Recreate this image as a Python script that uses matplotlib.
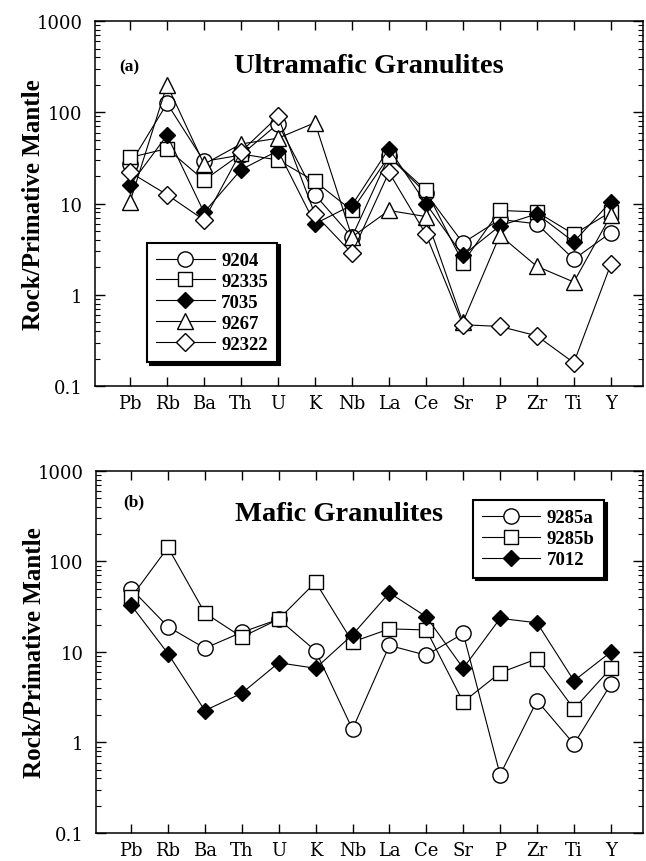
import matplotlib
matplotlib.use("Agg")
import matplotlib.pyplot as plt
from matplotlib.ticker import FixedLocator, LogLocator, NullFormatter

plt.rcParams['font.family'] = ['Liberation Serif', 'DejaVu Serif']

elements = ["Pb", "Rb", "Ba", "Th", "U", "K", "Nb", "La", "Ce", "Sr", "P", "Zr", "Ti", "Y"]

# Panel (a) Ultramafic Granulites
s9204 = [27, 125, 29, 34, 75, 12.5, 4.3, 33, 13, 3.7, 6.7, 6.0, 2.45, 4.8]
s92335 = [32, 40, 18, 35, 30, 17.5, 8.4, 33, 14, 2.25, 8.4, 8.1, 4.6, 8.1]
s7035 = [16, 56, 8, 23.5, 38, 6.0, 9.6, 40, 10, 2.7, 5.7, 7.7, 3.8, 10.5]
s9267 = [10.5, 200, 27, 45, 52, 77, 4.3, 8.4, 7.2, 0.5, 4.5, 2.05, 1.38, 7.4]
s92322 = [22, 12.5, 6.6, 37, 90, 7.6, 2.85, 22, 4.6, 0.47, 0.45, 0.355, 0.18, 2.15]

# Panel (b) Mafic Granulites
s9285a = [50, 19, 11, 16.5, 23, 10.3, 1.4, 11.8, 9.2, 16, 0.44, 2.9, 0.96, 4.4]
s9285b = [40, 143, 27, 14.6, 23, 59, 12.9, 18, 17.5, 2.8, 5.9, 8.4, 2.35, 6.6]
s7012 = [33, 9.6, 2.25, 3.5, 7.6, 6.6, 15.5, 45, 24.5, 6.6, 23.5, 21, 4.8, 10]

ytick_vals = [0.1, 1, 10, 100, 1000]
ytick_labels = ["0.1", "1", "10", "100", "1000"]

top_series = [("9204", s9204), ("92335", s92335), ("7035", s7035), ("9267", s9267), ("92322", s92322)]
bot_series = [("9285a", s9285a), ("9285b", s9285b), ("7012", s7012)]

styles = {
    "9204": dict(marker='o', mfc='white', ms=11),
    "92335": dict(marker='s', mfc='white', ms=10),
    "7035": dict(marker='D', mfc='black', ms=8.5),
    "9267": dict(marker='^', mfc='white', ms=11.5),
    "92322": dict(marker='D', mfc='white', ms=9),
    "9285a": dict(marker='o', mfc='white', ms=11),
    "9285b": dict(marker='s', mfc='white', ms=10),
    "7012": dict(marker='D', mfc='black', ms=8.5),
}

fig = plt.figure(figsize=(6.46, 8.62), dpi=100)
ax1 = fig.add_axes([0.1470, 0.551, 0.8483, 0.4234])
ax2 = fig.add_axes([0.1486, 0.0325, 0.8467, 0.420])

x = list(range(1, len(elements) + 1))
tick_font = {'family': 'DejaVu Serif', 'size': 13, 'weight': 'normal'}


def style_axes(ax):
    ax.set_yscale('log')
    ax.set_ylim(0.1, 1000)
    ax.set_xlim(0.05, 14.87)
    ax.set_xticks(x)
    ax.set_xticklabels(elements, fontdict=tick_font)
    ax.yaxis.set_major_locator(FixedLocator(ytick_vals))
    ax.yaxis.set_minor_locator(LogLocator(base=10, subs=range(2, 10), numticks=20))
    ax.yaxis.set_minor_formatter(NullFormatter())
    ax.set_yticks(ytick_vals)
    ax.set_yticklabels(ytick_labels, fontdict=tick_font)
    ax.tick_params(axis='x', which='both', direction='in', top=True, bottom=True, length=6.5, width=1, pad=6)
    ax.tick_params(axis='y', which='major', direction='in', left=True, right=True, length=7, width=1, pad=9)
    ax.tick_params(axis='y', which='minor', direction='in', left=True, right=True, length=3.5, width=0.8)
    for sp in ax.spines.values():
        sp.set_linewidth(1.1)
    ax.set_ylabel("Rock/Primative Mantle", fontsize=18, fontweight='bold')
    ax.yaxis.label.set_verticalalignment('center')
    ax.yaxis.set_label_coords(-0.112, 0.5)


def plot_series(ax, series):
    handles = []
    for name, vals in series:
        st = styles[name]
        h, = ax.plot(x, vals, color='black', lw=0.8, marker=st['marker'], mfc=st['mfc'],
                     mec='black', mew=1.0, ms=st['ms'], label=name, clip_on=False)
        handles.append(h)
    return handles


leg_kw = dict(borderaxespad=0, fancybox=False, shadow={'color': 'black', 'alpha': 1}, framealpha=1,
              edgecolor='black', prop={'family': 'Liberation Serif', 'weight': 'bold', 'size': 13.5},
              handlelength=3.1, handletextpad=0.35, labelspacing=0.2, numpoints=1, borderpad=0.5)

style_axes(ax1)
h1 = plot_series(ax1, top_series)
ax1.text(0.044, 0.877, "(a)", transform=ax1.transAxes, fontsize=12.5, fontweight='bold', va='center')
ax1.text(0.50, 0.877, "Ultramafic Granulites", transform=ax1.transAxes, fontsize=20.5,
         fontweight='bold', va='center', ha='center')
leg1 = ax1.legend(handles=h1, loc='lower left', bbox_to_anchor=(0.095, 0.066), **leg_kw)
leg1.get_frame().set_linewidth(1.5)

style_axes(ax2)
h2 = plot_series(ax2, bot_series)
ax2.text(0.05, 0.915, "(b)", transform=ax2.transAxes, fontsize=12.5, fontweight='bold', va='center')
ax2.text(0.445, 0.882, "Mafic Granulites", transform=ax2.transAxes, fontsize=20.5,
         fontweight='bold', va='center', ha='center')
leg2 = ax2.legend(handles=h2, loc='upper right', bbox_to_anchor=(0.929, 0.92), **leg_kw)
leg2.get_frame().set_linewidth(1.5)

fig.savefig("out.png", dpi=100)
